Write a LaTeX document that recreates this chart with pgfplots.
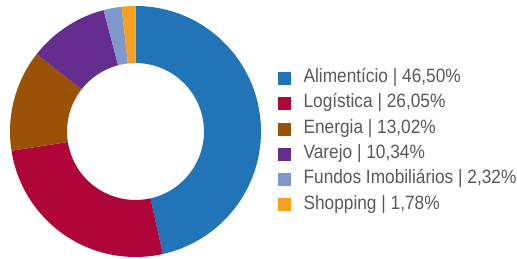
\documentclass[border=0pt]{standalone}
\usepackage{pgfplots}
\usepackage{pgfplotstable}
\pgfplotsset{compat=1.18}
\usepackage{fontspec}
\setmainfont[FakeStretch=0.895]{Liberation Sans}
\definecolor{c0}{HTML}{2174B8}
\definecolor{c1}{HTML}{B00538}
\definecolor{c2}{HTML}{9A5206}
\definecolor{c3}{HTML}{662D91}
\definecolor{c4}{HTML}{7F99CC}
\definecolor{c5}{HTML}{F5A01F}
\definecolor{txt}{HTML}{595959}
\pgfplotstableread{
sector value
0 46.50
1 26.05
2 13.02
3 10.34
4 2.32
5 1.78
}\sectors
\begin{document}
\begin{tikzpicture}
\xdef\cum{0}
\foreach \i in {0,...,5}{
  \pgfplotstablegetelem{\i}{value}\of\sectors
  \pgfmathsetmacro\s{90-3.6*\cum}
  \pgfmathsetmacro\e{90-3.6*(\cum+\pgfplotsretval)}
  \expandafter\xdef\csname as\i\endcsname{\s}
  \expandafter\xdef\csname ae\i\endcsname{\e}
  \pgfmathsetmacro\newcum{\cum+\pgfplotsretval}
  \xdef\cum{\newcum}
}
\begin{axis}[
  scale only axis, width=517pt, height=259pt,
  xmin=0, xmax=517, ymin=0, ymax=259,
  hide axis, clip=false,
  legend cell align=left,
  legend style={at={(axis cs:278,189.5)}, anchor=north west, draw=none, fill=none,
    inner sep=0pt, text=txt, font=\fontsize{19.3}{22}\selectfont,
    row sep=8.3pt,
    nodes={inner sep=0pt, text height=13pt, text depth=4pt},
    /tikz/every odd column/.append style={column sep=13pt}},
]
\pgfplotsinvokeforeach{0,...,5}{
  \fill[c#1] (axis cs:135.5,127.5) ++(\csname as#1\endcsname:125.5pt)
    arc[start angle=\csname as#1\endcsname, end angle=\csname ae#1\endcsname, radius=125.5pt]
    -- ++(\csname ae#1\endcsname+180:57pt)
    arc[start angle=\csname ae#1\endcsname, end angle=\csname as#1\endcsname, radius=68.5pt]
    -- cycle;
}
\addlegendimage{legend image code/.code={\fill[c0] (0pt,-6pt) rectangle (12pt,6pt);}}
\addlegendentry{Alimentício | 46,50\%}
\addlegendimage{legend image code/.code={\fill[c1] (0pt,-6pt) rectangle (12pt,6pt);}}
\addlegendentry{Logística | 26,05\%}
\addlegendimage{legend image code/.code={\fill[c2] (0pt,-6pt) rectangle (12pt,6pt);}}
\addlegendentry{Energia | 13,02\%}
\addlegendimage{legend image code/.code={\fill[c3] (0pt,-6pt) rectangle (12pt,6pt);}}
\addlegendentry{Varejo | 10,34\%}
\addlegendimage{legend image code/.code={\fill[c4] (0pt,-6pt) rectangle (12pt,6pt);}}
\addlegendentry{Fundos Imobiliários | 2,32\%}
\addlegendimage{legend image code/.code={\fill[c5] (0pt,-6pt) rectangle (12pt,6pt);}}
\addlegendentry{Shopping | 1,78\%}
\end{axis}
\pgfresetboundingbox
\path[use as bounding box] (0,0) rectangle (517pt,259pt);
\end{tikzpicture}
\end{document}
